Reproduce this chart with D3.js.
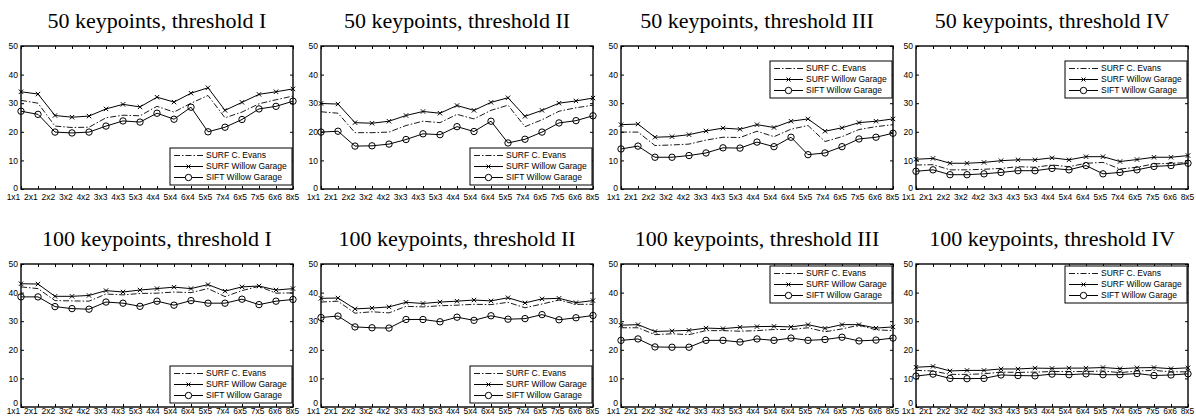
<!DOCTYPE html>
<html>
<head>
<meta charset="utf-8">
<script src="https://cdn.jsdelivr.net/npm/d3@7"></script>
<style>
  body { margin: 0; background: #fff; }
  svg text { fill: #000; }
</style>
</head>
<body>
<div id="chart"></div>
<script>
"use strict";

// grid sizes along the x axis
var gridSizes = ['1x1','2x1','2x2','3x2','4x2','3x3','4x3','5x3','4x4','5x4','6x4','5x5','7x4','6x5','7x5','6x6','8x5'];
var yTicks = [0, 10, 20, 30, 40, 50];
var seriesNames = ['SURF C. Evans', 'SURF Willow Garage', 'SIFT Willow Garage'];
var panelTitles = [
  '50 keypoints, threshold I', '50 keypoints, threshold II', '50 keypoints, threshold III', '50 keypoints, threshold IV',
  '100 keypoints, threshold I', '100 keypoints, threshold II', '100 keypoints, threshold III', '100 keypoints, threshold IV'
];

// values per panel: [SURF C. Evans, SURF Willow Garage, SIFT Willow Garage]
var kp50thrI = [
  [31.0,30.0,22.0,21.5,21.6,24.9,25.8,25.6,28.9,26.9,30.0,32.7,24.9,26.9,29.8,31.2,32.5],
  [34.0,33.2,25.7,25.1,25.5,28.0,29.6,28.7,32.1,30.4,33.5,35.4,27.5,30.3,33.1,34.0,35.0],
  [27.2,26.1,19.9,19.6,19.9,22.0,23.8,23.4,26.5,24.4,28.6,20.0,21.6,24.3,28.0,28.9,30.7]
];
var kp50thrII = [
  [27.0,26.5,19.7,19.7,19.9,22.2,23.7,23.2,26.1,24.5,27.5,29.3,21.8,24.2,27.2,28.4,29.3],
  [29.9,29.7,23.2,23.0,23.7,25.7,27.1,26.5,29.2,27.5,30.3,31.9,25.4,27.5,30.0,30.8,31.8],
  [19.9,20.2,15.0,15.1,15.7,17.3,19.3,19.0,21.8,20.1,23.7,16.1,17.4,19.9,23.1,23.9,25.6]
];
var kp50thrIII = [
  [19.9,19.9,15.2,15.4,15.7,17.1,18.1,18.0,20.2,18.3,20.9,22.2,16.6,18.3,20.8,21.8,22.5],
  [22.5,22.7,18.1,18.3,19.0,20.3,21.3,20.9,22.5,21.5,23.7,24.5,20.2,21.4,23.2,23.7,24.5],
  [14.0,15.0,11.1,11.1,11.7,12.6,14.4,14.3,16.4,14.8,18.1,12.0,12.6,14.8,17.5,18.1,19.5]
];
var kp50thrIV = [
  [8.4,8.5,6.7,6.7,6.9,7.2,7.8,7.6,8.4,7.8,9.0,9.3,7.0,7.6,8.8,9.0,9.2],
  [10.4,10.7,9.0,9.0,9.3,9.9,10.2,10.2,10.9,10.2,11.3,11.3,9.6,10.3,11.1,11.1,11.7],
  [6.2,6.7,5.0,5.0,5.3,5.8,6.4,6.4,7.2,6.7,8.2,5.3,5.8,6.7,7.9,8.2,9.0]
];
var kp100thrI = [
  [42.0,41.4,37.2,37.1,37.0,39.5,39.2,39.7,39.8,40.2,40.0,41.4,38.6,40.7,42.2,39.8,39.9],
  [43.1,43.0,38.7,38.7,39.0,40.7,40.2,40.9,41.4,41.9,41.4,42.8,40.5,42.0,42.3,40.9,41.4],
  [38.5,38.5,35.1,34.4,34.2,36.7,36.3,35.2,37.0,35.6,37.2,36.3,36.3,37.7,35.8,37.0,37.6]
];
var kp100thrII = [
  [36.7,37.0,32.8,33.3,32.9,35.2,35.0,35.4,35.6,35.9,35.8,36.6,34.7,36.0,37.4,35.9,35.9],
  [38.0,38.1,34.3,34.6,35.0,36.6,36.2,36.7,37.0,37.4,37.1,38.2,36.4,37.8,38.0,36.5,37.2],
  [31.3,31.8,28.0,27.7,27.6,30.6,30.6,29.8,31.4,30.3,31.9,30.7,30.9,32.3,30.5,31.2,32.0]
];
var kp100thrIII = [
  [27.7,27.7,25.3,25.6,25.3,26.7,26.7,26.5,26.7,27.1,27.1,27.7,26.3,27.3,28.6,27.0,26.7],
  [28.6,28.8,26.4,26.6,26.8,27.6,27.4,27.9,28.1,28.2,28.0,28.8,27.5,28.8,28.8,27.6,28.0],
  [23.3,23.8,21.0,20.9,20.9,23.3,23.3,22.7,23.8,23.3,24.1,23.3,23.6,24.4,23.1,23.4,24.1]
];
var kp100thrIV = [
  [12.8,12.6,11.4,11.4,11.6,12.2,12.1,12.2,12.4,12.4,12.4,12.6,12.0,12.6,12.8,12.3,12.3],
  [13.9,14.2,12.6,12.8,12.8,13.3,13.3,13.6,13.5,13.6,13.6,13.8,13.4,13.7,13.8,13.4,13.7],
  [10.8,11.5,10.0,9.9,10.0,11.2,11.0,10.9,11.5,11.3,11.6,11.3,11.3,11.7,11.0,11.2,11.6]
];
var panelData = [kp50thrI, kp50thrII, kp50thrIII, kp50thrIV, kp100thrI, kp100thrII, kp100thrIII, kp100thrIV];
// where the legend sits in each panel
var legendCorner = ['bottom','bottom','top','top','bottom','bottom','top','top'];

var width = 1196, height = 417;
var svg = d3.select('#chart').append('svg')
  .attr('width', width)
  .attr('height', height)
  .style('font-family', '"Liberation Sans", Arial, sans-serif');

var colLeft = [21, 321, 621, 916];
var rowTop = [46, 264];
var plotW = 272, plotH = 143;
var labelPad = [4.5, 1];

panelData.forEach(function (values, i) {
  var col = i % 4, row = Math.floor(i / 4);
  var g = svg.append('g')
    .attr('transform', 'translate(' + colLeft[col] + ',' + rowTop[row] + ')');

  var x = d3.scalePoint().domain(gridSizes).range([0, plotW]);
  // the tick labels are spread a little wider than the ticks themselves
  var xLab = d3.scalePoint().domain(gridSizes).range([-8, plotW - 1]);
  var y = d3.scaleLinear().domain([0, 50]).range([plotH, 0]);

  // title
  g.append('text')
    .attr('x', plotW / 2)
    .attr('y', -18)
    .attr('text-anchor', 'middle')
    .style('font-family', '"Liberation Serif", "Times New Roman", serif')
    .style('font-size', '22px')
    .text(panelTitles[i]);

  // axes, ticks pointing inwards like matlab
  var xAxis = g.append('g')
    .attr('transform', 'translate(0,' + plotH + ')')
    .call(d3.axisBottom(x).tickSizeInner(-3).tickSizeOuter(0).tickFormat(''));
  var xLabels = g.append('g')
    .attr('transform', 'translate(0,' + plotH + ')')
    .call(d3.axisBottom(xLab).tickSize(0).tickPadding(labelPad[row]));
  xLabels.selectAll('line').remove();
  var xTop = g.append('g')
    .call(d3.axisTop(x).tickSizeInner(-3).tickSizeOuter(0).tickFormat(''));
  var yAxis = g.append('g')
    .call(d3.axisLeft(y).tickValues(yTicks).tickSizeInner(-3).tickSizeOuter(0).tickPadding(3));
  var yRight = g.append('g')
    .attr('transform', 'translate(' + plotW + ',0)')
    .call(d3.axisRight(y).tickValues(yTicks).tickSizeInner(-3).tickSizeOuter(0).tickFormat(''));
  [xAxis, xLabels, xTop, yAxis, yRight].forEach(function (a) {
    a.select('.domain').remove();
    a.selectAll('line').attr('stroke', '#000').attr('stroke-width', 1);
    a.selectAll('text').style('font-size', '8.5px').attr('fill', '#000');
  });
  xLabels.selectAll('text').attr('dy', '0.71em');
  // in the lower row the "0" label sits a bit higher, clear of the grid labels
  yAxis.selectAll('.tick text')
    .filter(function (d) { return d === 0; })
    .attr('dy', row === 0 ? '0.2em' : '-0.2em');

  // box
  g.append('rect')
    .attr('width', plotW).attr('height', plotH)
    .attr('fill', 'none').attr('stroke', '#000').attr('stroke-width', 1.4);

  var line = d3.line()
    .x(function (d, k) { return x(gridSizes[k]); })
    .y(function (d) { return y(d); });

  // SURF C. Evans: dash-dot, no markers
  g.append('path')
    .attr('d', line(values[0]))
    .attr('fill', 'none').attr('stroke', '#000').attr('stroke-width', 0.9)
    .attr('stroke-dasharray', '6,2,1.5,2');

  // SURF Willow Garage: solid with x markers
  g.append('path')
    .attr('d', line(values[1]))
    .attr('fill', 'none').attr('stroke', '#000').attr('stroke-width', 1);
  g.selectAll('path.xm')
    .data(values[1])
    .enter().append('path')
    .attr('class', 'xm')
    .attr('d', function (d, k) {
      var cx = x(gridSizes[k]), cy = y(d), s = 2.2;
      return 'M' + (cx - s) + ',' + (cy - s) + 'L' + (cx + s) + ',' + (cy + s) +
             'M' + (cx - s) + ',' + (cy + s) + 'L' + (cx + s) + ',' + (cy - s);
    })
    .attr('stroke', '#000').attr('stroke-width', 1);

  // SIFT Willow Garage: solid with circle markers
  g.append('path')
    .attr('d', line(values[2]))
    .attr('fill', 'none').attr('stroke', '#000').attr('stroke-width', 1);
  g.selectAll('circle.om')
    .data(values[2])
    .enter().append('circle')
    .attr('class', 'om')
    .attr('cx', function (d, k) { return x(gridSizes[k]); })
    .attr('cy', function (d) { return y(d); })
    .attr('r', 3.2)
    .attr('fill', 'none').attr('stroke', '#000').attr('stroke-width', 1);

  // legend
  var legW = 122, legH = 37;
  var legX = plotW - legW - 1;
  var legY = legendCorner[i] === 'bottom' ? plotH - legH - 4 : (row === 0 ? 15 : 2);
  var leg = g.append('g').attr('transform', 'translate(' + legX + ',' + legY + ')');
  leg.append('rect')
    .attr('width', legW).attr('height', legH)
    .attr('fill', '#fff').attr('stroke', '#000').attr('stroke-width', 1);
  seriesNames.forEach(function (name, k) {
    var ly = 7.5 + k * 11;
    var l = leg.append('line')
      .attr('x1', 4).attr('x2', 33).attr('y1', ly).attr('y2', ly)
      .attr('stroke', '#000').attr('stroke-width', k === 0 ? 0.9 : 1);
    if (k === 0) l.attr('stroke-dasharray', '6,2,1.5,2');
    if (k === 1) {
      leg.append('path')
        .attr('d', 'M16.5,' + (ly - 2) + 'L20.5,' + (ly + 2) + 'M16.5,' + (ly + 2) + 'L20.5,' + (ly - 2))
        .attr('stroke', '#000').attr('stroke-width', 1);
    }
    if (k === 2) {
      leg.append('circle').attr('cx', 18.5).attr('cy', ly).attr('r', 3.2)
        .attr('fill', '#fff').attr('stroke', '#000').attr('stroke-width', 1);
    }
    leg.append('text')
      .attr('x', 36).attr('y', ly).attr('dy', '0.35em')
      .style('font-size', '8.5px')
      .text(name);
  });
});
</script>
</body>
</html>
